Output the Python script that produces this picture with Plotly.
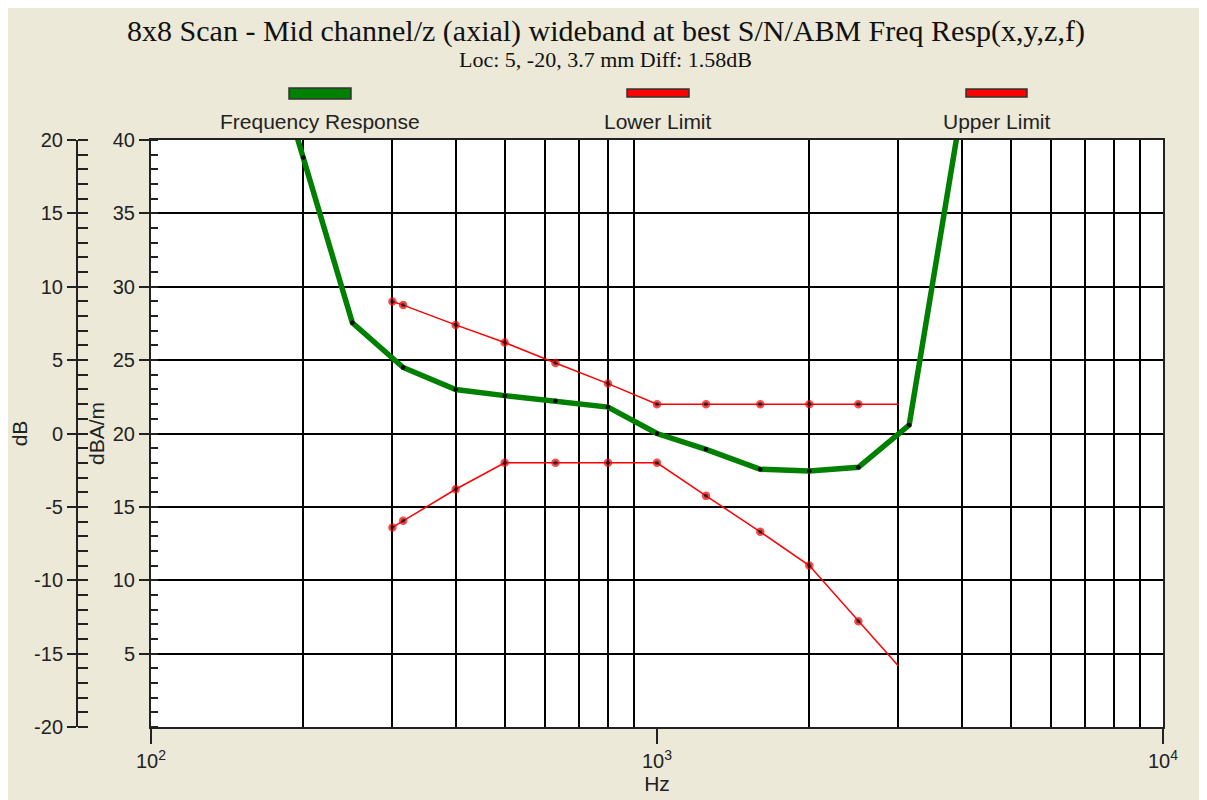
import plotly.graph_objects as go

# ---- data ----
resp_freq = [160, 200, 250, 315, 400, 500, 630, 800, 1000, 1250, 1600, 2000, 2500, 3150, 4000]
resp_db = [30.0, 18.8, 7.55, 4.5, 3.0, 2.58, 2.24, 1.8, 0.0, -1.08, -2.44, -2.56, -2.3, 0.58, 22.2]

lim_freq = [300, 315, 400, 500, 630, 800, 1000, 1250, 1600, 2000, 2500, 3000]
upper_db = [9.0, 8.75, 7.4, 6.2, 4.8, 3.4, 2.0, 2.0, 2.0, 2.0, 2.0, 2.0]
lower_db = [-6.4, -5.95, -3.8, -2.0, -2.0, -2.0, -2.0, -4.25, -6.7, -9.0, -12.8, -15.85]

x_tick_vals = [100, 1000, 10000]
x_tick_text = ["10<sup>2</sup>", "10<sup>3</sup>", "10<sup>4</sup>"]
x_minor_vals = [200, 300, 400, 500, 600, 700, 800, 900, 2000, 3000, 4000, 5000, 6000, 7000, 8000, 9000]
db_ticks = [20, 15, 10, 5, 0, -5, -10, -15, -20]
db_tick_text = ["20", "15", "10", "5", "0", "-5", "-10", "-15", "-20"]
dbam_ticks = [40, 35, 30, 25, 20, 15, 10, 5]

legend_names = ["Frequency Response", "Lower Limit", "Upper Limit"]

title_text = "8x8 Scan - Mid channel/z (axial) wideband at best S/N/ABM Freq Resp(x,y,z,f)"
subtitle_text = "Loc: 5, -20, 3.7 mm Diff: 1.58dB"

GREEN = "#008000"
RED = "#FF0000"
BG = "#ECE9D8"
INK = "#222"
SANS = "Liberation Sans, Arial, sans-serif"
SERIF = "Liberation Serif, Times New Roman, serif"

W, H = 1199, 792          # page body has an 8px margin
ML, MR, MT, MB = 69, 44, 132, 73
PW = W - ML - MR          # 1086
PH = H - MT - MB          # 587
OX, OY = 8 + ML, 8 + MT   # image position of paper origin (left, top)


def px_to_paper_x(px):
    return (px - OX) / PW


def py_to_paper_y(py):
    return 1 - (py - OY) / PH


fig = go.Figure()

fig.add_trace(go.Scatter(
    x=resp_freq, y=resp_db, mode="lines+markers", name=legend_names[0],
    line=dict(color=GREEN, width=5.5),
    marker=dict(color="black", size=4.5),
    showlegend=False,
))

lim_sizes = [6.5] * (len(lim_freq) - 1) + [0]
for name, vals in [(legend_names[1], lower_db), (legend_names[2], upper_db)]:
    fig.add_trace(go.Scatter(
        x=lim_freq, y=vals, mode="lines+markers", name=name,
        line=dict(color=RED, width=1.5),
        marker=dict(color="black", size=lim_sizes, line=dict(color=RED, width=2)),
        showlegend=False,
    ))

# invisible traces so the extra axes render
fig.add_trace(go.Scatter(x=[1000], y=[20], yaxis="y2", mode="markers",
                         marker=dict(size=0, opacity=0), showlegend=False, hoverinfo="skip"))
fig.add_trace(go.Scatter(x=[1000], y=[0], yaxis="y3", mode="markers",
                         marker=dict(size=0, opacity=0), showlegend=False, hoverinfo="skip"))

tickfont = dict(family=SANS, size=20, color=INK)
titlefont = dict(family=SANS, size=21, color=INK)

fig.update_layout(
    width=W, height=H,
    paper_bgcolor=BG, plot_bgcolor="white",
    margin=dict(l=ML, r=MR, t=MT, b=MB, autoexpand=False),
    title=dict(text=title_text, x=(606 - 8) / W, xanchor="center",
               y=1 - (30 - 8) / H, yanchor="middle",
               font=dict(family=SERIF, size=30, color="#111")),
    xaxis=dict(
        type="log", range=[2, 4], domain=[px_to_paper_x(151), 1], anchor="y",
        tickmode="array", tickvals=x_tick_vals, ticktext=x_tick_text,
        ticks="outside", ticklen=15, tickwidth=2, tickcolor=INK,
        showgrid=False,
        minor=dict(tickmode="array", tickvals=x_minor_vals, showgrid=True,
                   gridcolor="black", gridwidth=2, ticks=""),
        showline=True, linecolor=INK, linewidth=2, mirror=True,
        tickfont=tickfont,
        title=dict(text="Hz", font=titlefont, standoff=2),
        zeroline=False,
    ),
    yaxis=dict(
        range=[-20, 20], anchor="free", position=0, side="left",
        tickmode="array", tickvals=db_ticks, ticktext=db_tick_text,
        ticks="outside", ticklen=9, tickwidth=2, tickcolor=INK,
        minor=dict(dtick=1, ticks="inside", ticklen=10, tickwidth=2, tickcolor=INK, showgrid=False),
        showgrid=True, gridcolor="black", gridwidth=2,
        showline=True, linecolor=INK, linewidth=2,
        tickfont=tickfont,
        title=dict(text="dB", font=titlefont, standoff=6),
        zeroline=False,
    ),
    yaxis3=dict(
        range=[-20, 20], overlaying="y", anchor="free", position=0, side="left",
        tickmode="array", tickvals=db_ticks,
        ticks="inside", ticklen=10, tickwidth=2, tickcolor=INK,
        showticklabels=False, showgrid=False, showline=False, zeroline=False,
    ),
    yaxis2=dict(
        range=[0, 40], overlaying="y", anchor="x", side="left",
        tickmode="array", tickvals=dbam_ticks,
        ticks="outside", ticklen=10, tickwidth=2, tickcolor=INK,
        minor=dict(dtick=1, ticks="inside", ticklen=7, tickwidth=2, tickcolor=INK, showgrid=False),
        showgrid=False,
        showline=True, linecolor=INK, linewidth=2, mirror=True,
        tickfont=tickfont,
        title=dict(text="dBA/m", font=titlefont, standoff=2),
        zeroline=False,
    ),
)

# subtitle
fig.add_annotation(text=subtitle_text, xref="paper", yref="paper",
                   x=px_to_paper_x(605), y=py_to_paper_y(60), showarrow=False,
                   xanchor="center", yanchor="middle",
                   font=dict(family=SERIF, size=22, color="#111"))

# custom legend: swatch above label
legend_items = [
    (legend_names[0], GREEN, 289, 351, 88, 99),
    (legend_names[1], RED, 627, 689, 89, 97),
    (legend_names[2], RED, 966, 1027, 89, 97),
]
for name, col, px0, px1, py0, py1 in legend_items:
    fig.add_shape(type="rect", xref="paper", yref="paper",
                  x0=px_to_paper_x(px0), x1=px_to_paper_x(px1),
                  y0=py_to_paper_y(py1), y1=py_to_paper_y(py0),
                  fillcolor=col, line=dict(color="#333", width=1.5))
    fig.add_annotation(text=name, xref="paper", yref="paper",
                       x=px_to_paper_x((px0 + px1) / 2), y=py_to_paper_y(122),
                       showarrow=False, xanchor="center", yanchor="middle",
                       font=dict(family=SANS, size=21, color=INK))

fig.write_html("out.html")
